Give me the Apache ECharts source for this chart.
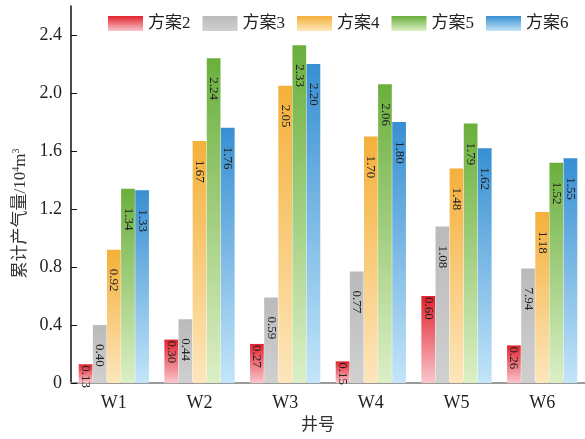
<!DOCTYPE html>
<html>
<head>
<meta charset="utf-8">
<script src="https://cdn.jsdelivr.net/npm/echarts@6/dist/echarts.min.js"></script>
<style>html,body{margin:0;padding:0;background:#fff}#c{width:585px;height:439px}</style>
</head>
<body>
<div id="c"></div>
<script>
const categories = ['W1', 'W2', 'W3', 'W4', 'W5', 'W6'];
const seriesNames = ['方案2', '方案3', '方案4', '方案5', '方案6'];
const plan2 = [0.13, 0.30, 0.27, 0.15, 0.60, 0.26];
const plan3 = [0.40, 0.44, 0.59, 0.77, 1.08, 0.79];
const plan4 = [0.92, 1.67, 2.05, 1.70, 1.48, 1.18];
const plan5 = [1.34, 2.24, 2.33, 2.06, 1.79, 1.52];
const plan6 = [1.33, 1.76, 2.20, 1.80, 1.62, 1.55];
const plan2Labels = ['0.13', '0.30', '0.27', '0.15', '0.60', '0.26'];
const plan3Labels = ['0.40', '0.44', '0.59', '0.77', '1.08', '7.94'];
const plan4Labels = ['0.92', '1.67', '2.05', '1.70', '1.48', '1.18'];
const plan5Labels = ['1.34', '2.24', '2.33', '2.06', '1.79', '1.52'];
const plan6Labels = ['1.33', '1.76', '2.20', '1.80', '1.62', '1.55'];
const yTicks = [0, 0.4, 0.8, 1.2, 1.6, 2.0, 2.4];

const values = [plan2, plan3, plan4, plan5, plan6];
const labels = [plan2Labels, plan3Labels, plan4Labels, plan5Labels, plan6Labels];
const colors = [
  ['#e3222d', '#f9c6cc'],
  ['#bababa', '#d0d0d0'],
  ['#f4b03a', '#fde6bc'],
  ['#6aaf3c', '#dcefc6'],
  ['#378fd2', '#c3e5f9']
];
const labelDist = [1, 19, 19, 19, 19];

const serif = "'Liberation Serif', 'Noto Sans CJK SC', serif";

const chart = echarts.init(document.getElementById('c'), null, {renderer: 'canvas'});
const series = values.map((v, i) => ({
  name: seriesNames[i],
  type: 'bar',
  data: v,
  barGap: '3%',
  barCategoryGap: '18%',
  itemStyle: {
    color: new echarts.graphic.LinearGradient(0, 0, 0, 1, [
      {offset: 0, color: colors[i][0]},
      {offset: 1, color: colors[i][1]}
    ])
  },
  label: {
    show: true,
    position: 'insideTop',
    rotate: -90,
    align: 'left',
    verticalAlign: 'middle',
    distance: labelDist[i],
    fontFamily: serif,
    fontSize: 13,
    color: '#222',
    formatter: p => labels[i][p.dataIndex]
  }
}));

chart.setOption({
  animation: false,
  backgroundColor: '#fff',
  grid: {left: 71, right: 0, top: 6, bottom: 53, containLabel: false},
  legend: {
    top: 10,
    left: 103,
    itemWidth: 35,
    itemHeight: 15,
    itemGap: 12,
    icon: 'rect',
    textStyle: {fontFamily: serif, fontSize: 17, color: '#222'},
    data: seriesNames
  },
  xAxis: {
    type: 'category',
    data: categories,
    name: '井号',
    nameLocation: 'middle',
    nameGap: 30,
    nameTextStyle: {fontFamily: serif, fontSize: 17, color: '#333', padding: [0, 20, 0, 0]},
    axisLine: {lineStyle: {color: '#9a9a9a', width: 2}},
    axisTick: {show: false},
    axisLabel: {fontFamily: serif, fontSize: 18, color: '#222', margin: 11}
  },
  yAxis: {
    type: 'value',
    min: 0,
    max: 2.6,
    interval: 0.2,
    name: '累计产气量/10{sup|4}m{sup|3}',
    nameLocation: 'middle',
    nameGap: 29,
    nameTextStyle: {
      fontFamily: serif, fontSize: 17, color: '#333', padding: [0, 38, 0, 0],
      rich: {sup: {fontFamily: serif, fontSize: 10, color: '#333', verticalAlign: 'top', padding: [0, 0, 8, 0]}}
    },
    splitLine: {show: false},
    axisLine: {show: true, lineStyle: {color: '#111', width: 1.5}},
    axisTick: {show: true, inside: true, length: 6, lineStyle: {color: '#111'}, customValues: yTicks},
    axisLabel: {
      fontFamily: serif, fontSize: 18, color: '#222', margin: 9,
      customValues: yTicks,
      formatter: v => (v === 0 ? '0' : v.toFixed(1))
    }
  },
  series: series
});
</script>
</body>
</html>
